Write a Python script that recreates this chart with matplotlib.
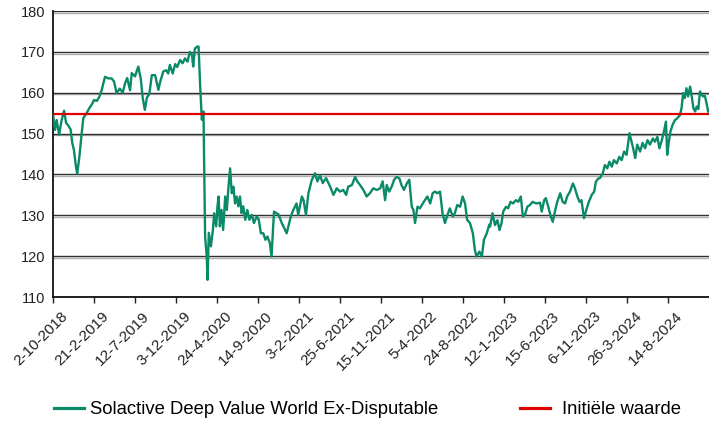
import numpy as np
import matplotlib.pyplot as plt
import matplotlib.patheffects as pe
from matplotlib.lines import Line2D
from matplotlib.transforms import ScaledTranslation

plt.rcParams["font.family"] = ["Liberation Sans", "DejaVu Sans"]

# trading day number (0 = 2-10-2018) and index level
day = [
    0, 5, 9, 15, 21, 27, 32, 37, 43, 47, 51, 56, 59, 64, 70, 74, 82, 89, 94,
    100, 107, 113, 119, 123, 127, 135, 143, 149, 155, 163, 170, 176, 181, 188,
    192, 200, 208, 214, 219, 224, 229, 235, 241, 249, 257, 261, 269, 276, 281,
    285, 292, 298, 303, 310, 316, 322, 328, 334, 339, 342, 346, 352, 355, 359,
    362, 363, 367, 369, 371, 375, 377, 380, 385, 390, 393, 398, 401, 404, 407,
    411, 415, 420, 424, 428, 432, 436, 440, 444, 448, 452, 456, 460, 464, 469,
    474, 479, 485, 490, 497, 502, 507, 513, 518, 523, 529, 533, 539, 550, 558,
    570, 580, 586, 594, 598, 607, 611, 617, 623, 631, 639, 645, 651, 658, 666,
    676, 684, 692, 700, 708, 715, 720, 729, 737, 742, 749, 757, 765, 773, 781,
    790, 798, 804, 810, 814, 820, 826, 832, 838, 845, 850, 856, 863, 869, 875,
    879, 883, 889, 895, 902, 907, 913, 920, 926, 932, 937, 944, 950, 956, 962,
    968, 975, 980, 986, 993, 999, 1005, 1010, 1017, 1024, 1029, 1033, 1040,
    1046, 1051, 1058, 1064, 1066, 1072, 1078, 1084, 1089, 1094, 1098, 1105,
    1110, 1116, 1122, 1129, 1135, 1141, 1146, 1151, 1157, 1163, 1170, 1176,
    1181, 1188, 1192, 1198, 1202, 1208, 1214, 1219, 1224, 1230, 1237, 1243,
    1249, 1254, 1261, 1268, 1273, 1279, 1284, 1289, 1295, 1302, 1307, 1314,
    1320, 1324, 1330, 1334, 1341, 1346, 1352, 1357, 1363, 1368, 1375, 1381,
    1387, 1393, 1399, 1406, 1411, 1415, 1420, 1425, 1432, 1438, 1444, 1450,
    1456, 1463, 1468, 1474, 1479, 1485, 1490, 1495, 1498, 1502, 1506, 1511,
    1517, 1522, 1529, 1533, 1537, 1541, 1545, 1549, 1554, 1558, 1562, 1566,
    1570, 1574, 1578, 1585, 1590, 1594, 1598,
]
value = [
    154.8, 150.9, 153.3, 149.7, 153.3, 155.6, 152.6, 152.0, 151.0, 147.7, 146.0,
    141.9, 140.2, 144.0, 150.1, 153.8, 155.0, 156.3, 157.0,
    158.2, 158.0, 159.0, 160.7, 162.4, 163.9, 163.5, 163.5, 162.7, 159.9, 161.0,
    160.0, 162.4, 163.6, 160.6, 164.8, 164.0, 166.4, 163.5, 158.6, 155.8, 158.8,
    159.7, 164.3, 164.3, 160.7, 162.5, 165.2, 165.5, 164.7, 166.8, 164.7, 167.0,
    166.3, 168.0, 167.2, 168.4, 167.6, 170.0, 169.2, 166.4, 170.8, 171.3, 171.3,
    161.5, 155.4, 153.4, 155.4, 140.3, 124.8, 119.9, 114.2, 125.7, 122.4, 126.4,
    130.5, 127.3, 132.1, 134.6, 127.3, 131.3, 126.4, 134.6, 131.3, 137.0, 141.5,
    135.4, 137.0, 132.9, 134.6, 132.2, 134.6, 130.5, 132.2, 128.9, 131.3, 128.9,
    130.1, 128.1, 129.7, 128.9, 125.6, 125.6, 124.0, 124.8, 123.2, 119.9, 130.9,
    130.2, 128.1, 125.6, 129.7, 131.3, 132.9, 130.1, 134.6, 133.7, 130.1, 135.4,
    138.6, 140.3, 138.3, 139.8, 137.9, 139.1, 137.0, 135.0, 136.6, 135.8, 136.2,
    135.0, 137.0, 137.4, 139.4, 138.3, 137.4, 136.2, 134.6, 135.4, 136.6, 136.2,
    136.6, 138.3, 133.7, 137.4, 135.8, 137.0, 138.7, 139.4, 139.0, 137.4, 136.2,
    137.8, 138.7, 132.1, 131.3, 128.1, 132.1, 131.7, 132.9, 133.7, 134.6, 132.9,
    135.4, 135.8, 135.4, 135.8, 130.5, 128.1, 130.1, 131.7, 129.7, 130.5, 132.5,
    132.1, 134.6, 132.9, 128.9, 128.1, 125.6, 121.5, 119.9, 121.1, 119.9, 124.0,
    125.6, 127.7, 127.2, 130.5, 127.6, 128.8, 126.4, 128.1, 130.9, 132.1, 131.7,
    133.3, 132.9, 133.7, 133.3, 134.6, 129.7, 130.1, 132.1, 132.5, 133.3, 133.0,
    132.9, 133.1, 130.9, 133.7, 134.2, 132.1, 129.7, 128.4, 130.9, 133.3, 135.4,
    133.3, 132.9, 134.6, 135.8, 137.8, 136.6, 134.6, 133.3, 133.7, 129.3, 131.7,
    133.3, 135.0, 135.8, 138.2, 139.0, 139.1, 140.3, 142.3, 141.5, 143.1, 141.9,
    143.5, 142.7, 144.3, 143.5, 145.6, 144.8, 150.1, 148.1, 146.4, 144.0, 147.3,
    145.6, 147.7, 146.4, 148.4, 147.3, 148.8, 148.0, 149.2, 146.4, 148.4, 150.5,
    152.9, 144.8, 148.0, 150.5, 152.1, 153.3, 153.7, 154.5, 156.2, 159.9, 158.7,
    161.1, 159.1, 161.5, 159.0, 156.2, 155.4, 156.6, 156.0, 160.3, 159.1, 159.2,
    157.4, 155.4,
]
initial_value = 154.8

tick_days = [0, 100, 200, 300, 400, 500, 600, 700, 800, 900, 1000, 1100, 1200, 1300, 1400, 1500]
tick_labels = [
    "2-10-2018", "21-2-2019", "12-7-2019", "3-12-2019", "24-4-2020", "14-9-2020",
    "3-2-2021", "25-6-2021", "15-11-2021", "5-4-2022", "24-8-2022", "12-1-2023",
    "15-6-2023", "6-11-2023", "26-3-2024", "14-8-2024",
]

fig = plt.figure(figsize=(7.09, 4.24), dpi=100)
ax = fig.add_axes([53 / 709, 1 - 297 / 424, 1 - 53 / 709, (297 - 11) / 424])

green = "#0a8a68"
red = "#e00000"

ax.plot(day, value, color=green, linewidth=1.7, zorder=3)
ax.axhline(initial_value, color=red, linewidth=1.6, zorder=4)

ax.set_xlim(0, 1600)
ax.set_ylim(110, 180)
ax.set_yticks(np.arange(110, 181, 10))
ax.set_xticks(tick_days)
ax.set_xticklabels(tick_labels, rotation=45, ha="right", rotation_mode="anchor")

ax.tick_params(axis="y", length=0, pad=5.5, labelsize=10.5, colors="#222222")
ax.tick_params(axis="x", length=4, width=1, pad=3, labelsize=11, colors="#222222")

# nudge the rotated date labels so they end just right of their tick
shift = ScaledTranslation(0.075, -0.02, fig.dpi_scale_trans)
for lab in ax.get_xticklabels():
    lab.set_transform(lab.get_transform() + shift)

ax.yaxis.grid(True, color="#303030", linewidth=1.0)
for gl in ax.get_ygridlines():
    gl.set_path_effects([
        pe.SimpleLineShadow(offset=(0, -1.2), shadow_color="#b0b0b0", alpha=1.0),
        pe.Normal(),
    ])

for side in ["top", "right"]:
    ax.spines[side].set_visible(False)
ax.spines["left"].set_linewidth(1.3)
ax.spines["bottom"].set_linewidth(1.3)
ax.spines["left"].set_color("#111111")
ax.spines["bottom"].set_color("#111111")

legend_kw = dict(loc="center left", frameon=False, fontsize=13.3,
                 handlelength=1.65, borderpad=0, borderaxespad=0)

fig.legend([Line2D([], [], color=green, linewidth=2.3)],
           ["Solactive Deep Value World Ex-Disputable"],
           bbox_to_anchor=(54 / 709, 1 - 410 / 424),
           handletextpad=0.3, **legend_kw)

fig.legend([Line2D([], [], color=red, linewidth=2.3)],
           ["Initiële waarde"],
           bbox_to_anchor=(520 / 709, 1 - 410 / 424),
           handletextpad=0.6, **legend_kw)

fig.savefig("out.png", dpi=100)
